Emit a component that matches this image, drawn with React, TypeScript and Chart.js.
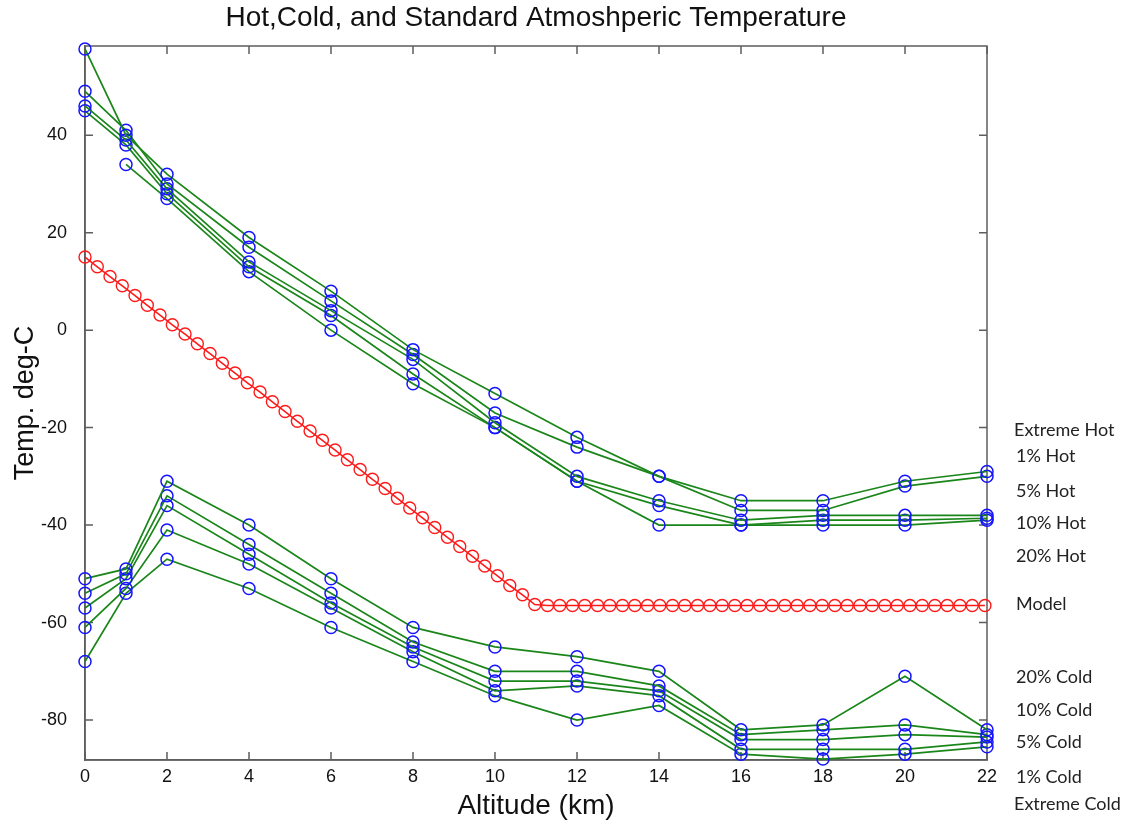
import React, { useEffect, useRef } from "react";
import { Chart, registerables } from "chart.js";

Chart.register(...registerables);

// ---------- data ----------
const altitudes = [0, 1, 2, 4, 6, 8, 10, 12, 14, 16, 18, 20, 22];

const extremeHot = [57.7, 40, 32, 19, 8, -4, -13, -22, -30, -35, -35, -31, -29];
const hot1 = [49, 41, 30, 17, 6, -5, -17, -24, -30, -37, -37, -32, -30];
const hot5 = [46, 39, 29, 14, 4, -6, -19, -30, -35, -39, -38, -38, -38];
const hot10 = [45, 38, 28, 13, 3, -9, -20, -31, -36, -40, -39, -39, -38.6];
const hot20 = [null, 34, 27, 12, 0, -11, -20, -31, -40, -40, -40, -40, -39];

const cold20 = [-51, -49, -31, -40, -51, -61, -65, -67, -70, -82, -81, -71, -82];
const cold10 = [-54, -50, -34, -44, -54, -64, -70, -70, -73, -83, -82, -81, -83];
const cold5 = [-57, -51, -36, -46, -56, -65, -72, -72, -74, -84, -84, -83, -83.5];
const cold1 = [-61, -53, -41, -48, -57, -66, -74, -73, -75, -86, -86, -86, -84.5];
const extremeCold = [-68, -54, -47, -53, -61, -68, -75, -80, -77, -87, -88, -87, -85.5];

const modelAltitudes = [
  0, 0.3, 0.61, 0.91, 1.22, 1.52, 1.83, 2.13, 2.44, 2.74, 3.05, 3.35, 3.66, 3.96, 4.27, 4.57,
  4.88, 5.18, 5.49, 5.79, 6.1, 6.4, 6.71, 7.01, 7.32, 7.62, 7.92, 8.23, 8.53, 8.84, 9.14, 9.45,
  9.75, 10.06, 10.36, 10.67, 10.97, 11.28, 11.58, 11.89, 12.19, 12.5, 12.8, 13.11, 13.41, 13.72,
  14.02, 14.33, 14.63, 14.94, 15.24, 15.54, 15.85, 16.15, 16.46, 16.76, 17.07, 17.37, 17.68,
  17.98, 18.29, 18.59, 18.9, 19.2, 19.51, 19.81, 20.12, 20.42, 20.73, 21.03, 21.34, 21.64, 21.95,
];
const modelTemps = [
  15.0, 13.0, 11.0, 9.1, 7.1, 5.1, 3.1, 1.1, -0.8, -2.8, -4.8, -6.8, -8.8, -10.8, -12.7, -14.7,
  -16.7, -18.7, -20.7, -22.6, -24.6, -26.6, -28.6, -30.6, -32.5, -34.5, -36.5, -38.5, -40.5,
  -42.5, -44.4, -46.4, -48.4, -50.4, -52.4, -54.3, -56.3, -56.5, -56.5, -56.5, -56.5, -56.5,
  -56.5, -56.5, -56.5, -56.5, -56.5, -56.5, -56.5, -56.5, -56.5, -56.5, -56.5, -56.5, -56.5,
  -56.5, -56.5, -56.5, -56.5, -56.5, -56.5, -56.5, -56.5, -56.5, -56.5, -56.5, -56.5, -56.5,
  -56.5, -56.5, -56.5, -56.5, -56.5,
];

const xTickValues = [0, 2, 4, 6, 8, 10, 12, 14, 16, 18, 20, 22];
const yTickValues = [-80, -60, -40, -20, 0, 20, 40];

const sideLabels = [
  "Extreme Hot", "1% Hot", "5% Hot", "10% Hot", "20% Hot", "Model",
  "20% Cold", "10% Cold", "5% Cold", "1% Cold", "Extreme Cold",
];

const titleText = "Hot,Cold, and Standard Atmoshperic Temperature";
const xTitle = "Altitude (km)";
const yTitle = "Temp. deg-C";

// ---------- layout / style ----------
const W = 1136;
const H = 824;
const sideLabelY = [430, 456, 491, 523, 556, 604, 677, 710, 742, 777, 804];
const sideLabelX = [1014, 1016, 1016, 1016, 1016, 1016, 1016, 1016, 1016, 1016, 1014];
const FONT = "'Liberation Sans', Arial, sans-serif";
const GREEN = "#1a861a";
const BLUE = "#1414ff";
const RED = "#ff1a1a";
const FRAME = "#5e5e5e";

const framePlugin = {
  id: "matlabFrame",
  beforeDatasetsDraw(chart: any) {
    const { ctx, chartArea: a, scales } = chart;
    ctx.save();
    ctx.strokeStyle = FRAME;
    ctx.lineWidth = 1.5;
    ctx.strokeRect(a.left, a.top, a.right - a.left, a.bottom - a.top);
    const tl = 8;
    ctx.beginPath();
    for (const v of xTickValues) {
      const px = scales.x.getPixelForValue(v);
      ctx.moveTo(px, a.bottom);
      ctx.lineTo(px, a.bottom - tl);
      ctx.moveTo(px, a.top);
      ctx.lineTo(px, a.top + tl);
    }
    for (const v of yTickValues) {
      const py = scales.y.getPixelForValue(v);
      ctx.moveTo(a.left, py);
      ctx.lineTo(a.left + tl, py);
      ctx.moveTo(a.right, py);
      ctx.lineTo(a.right - tl, py);
    }
    ctx.stroke();
    ctx.restore();
  },
  afterDraw(chart: any) {
    const { ctx } = chart;
    ctx.save();
    ctx.font = "18px Lato, 'Open Sans', sans-serif";
    ctx.fillStyle = "#222";
    ctx.textAlign = "left";
    ctx.textBaseline = "middle";
    sideLabels.forEach((t, i) => {
      ctx.fillText(t, sideLabelX[i], sideLabelY[i]);
    });
    ctx.restore();
  },
};

function seriesDataset(label: string, values: (number | null)[]) {
  return {
    label,
    data: altitudes.map((x, i) => ({ x, y: values[i] })),
    borderColor: GREEN,
    borderWidth: 1.7,
    pointStyle: "circle",
    pointRadius: 6,
    pointBorderWidth: 1.5,
    pointBorderColor: BLUE,
    pointBackgroundColor: "rgba(0,0,0,0)",
    pointHoverRadius: 6,
    tension: 0,
    clip: false,
    spanGaps: false,
  };
}

export default function App() {
  const canvasRef = useRef<HTMLCanvasElement | null>(null);

  useEffect(() => {
    document.body.style.margin = "0";
    const canvas = canvasRef.current;
    if (!canvas) return;
    const chart = new Chart(canvas, {
      type: "line",
      data: {
        datasets: [
          {
            label: "Model",
            data: modelAltitudes.map((x, i) => ({ x, y: modelTemps[i] })),
            borderColor: RED,
            borderWidth: 1.6,
            pointStyle: "circle",
            pointRadius: 6,
            pointBorderWidth: 1.4,
            pointBorderColor: RED,
            pointBackgroundColor: "rgba(0,0,0,0)",
            tension: 0,
            clip: false,
          } as any,
          seriesDataset("Extreme Hot", extremeHot),
          seriesDataset("1% Hot", hot1),
          seriesDataset("5% Hot", hot5),
          seriesDataset("10% Hot", hot10),
          seriesDataset("20% Hot", hot20),
          seriesDataset("20% Cold", cold20),
          seriesDataset("10% Cold", cold10),
          seriesDataset("5% Cold", cold5),
          seriesDataset("1% Cold", cold1),
          seriesDataset("Extreme Cold", extremeCold),
        ],
      },
      options: {
        responsive: false,
        animation: false,
        devicePixelRatio: 1,
        layout: { padding: { left: 0, right: 149, top: 0, bottom: 0 } },
        plugins: {
          legend: { display: false },
          tooltip: { enabled: false },
          title: {
            display: true,
            text: titleText,
            fullSize: false,
            color: "#111",
            font: { family: FONT, size: 28, weight: "normal" },
            padding: { top: 1, bottom: 11.4 },
          },
        },
        scales: {
          x: {
            type: "linear",
            min: 0,
            max: 22,
            afterFit: (s: any) => {
              s.height = 64;
            },
            afterBuildTicks: (s: any) => {
              s.ticks = xTickValues.map((v) => ({ value: v }));
            },
            grid: { display: false, drawTicks: false },
            border: { display: true, color: FRAME, width: 1.5 },
            ticks: {
              color: "#111",
              padding: 6,
              maxRotation: 0,
              font: { family: FONT, size: 18 },
            },
            title: {
              display: true,
              text: xTitle,
              color: "#111",
              font: { family: FONT, size: 28 },
              padding: { top: 0, bottom: 1 },
            },
          },
          y: {
            type: "linear",
            min: -88.2,
            max: 58.3,
            afterFit: (s: any) => {
              s.width = 85;
            },
            afterBuildTicks: (s: any) => {
              s.ticks = yTickValues.map((v) => ({ value: v }));
            },
            grid: { display: false, drawTicks: false },
            border: { display: true, color: FRAME, width: 1.5 },
            ticks: {
              color: "#111",
              padding: 18,
              font: { family: FONT, size: 18 },
            },
            title: {
              display: true,
              text: yTitle,
              color: "#111",
              font: { family: FONT, size: 27 },
              padding: { top: 9, bottom: 0 },
            },
          },
        },
      },
      plugins: [framePlugin],
    } as any);
    return () => chart.destroy();
  }, []);

  return (
    <div style={{ position: "fixed", left: 0, top: 0, width: W, height: H, background: "#fff" }}>
      <canvas ref={canvasRef} width={W} height={H} style={{ display: "block", width: W, height: H }} />
    </div>
  );
}
